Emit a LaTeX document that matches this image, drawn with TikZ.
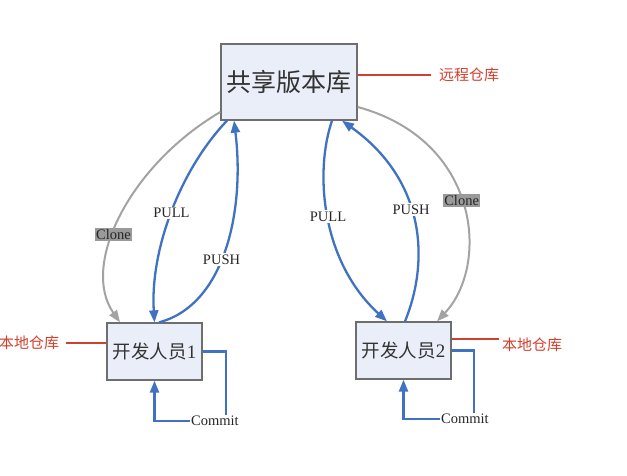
\documentclass[tikz,border=0pt]{standalone}
\usepackage{fontspec}
\setmainfont{Liberation Serif}
\newfontfamily\cjk{Noto Sans CJK SC}
\usetikzlibrary{arrows.meta}
\definecolor{boxfill}{HTML}{E9EEF8}
\definecolor{boxline}{HTML}{6E6E6E}
\definecolor{flowblue}{HTML}{3F72C2}
\definecolor{clonegray}{HTML}{A3A3A3}
\definecolor{tagred}{HTML}{D0402E}
\definecolor{tagfill}{HTML}{9A9A9A}

\begin{document}
\begin{tikzpicture}[x=1pt,y=-1pt,
  repo/.style={draw=boxline, fill=boxfill, line width=1.3pt, inner sep=0pt, text=black!80},
  flow/.style={draw=flowblue, line width=2.3pt, -{Triangle[length=12pt,width=9pt]}},
  cloneflow/.style={draw=clonegray, line width=2pt, -{Triangle[length=12pt,width=9pt]}},
  flowlabel/.style={fill=white, inner sep=1.5pt, text=black!85, font=\fontsize{14.5}{14.5}\selectfont},
  clonetag/.style={fill=tagfill, inner sep=1.5pt, text=black!85, font=\fontsize{14.5}{14.5}\selectfont},
  commitlabel/.style={inner sep=1pt, text=black!85, font=\fontsize{14.5}{14.5}\selectfont},
  callout/.style={draw=tagred, line width=1.2pt},
  calltext/.style={text=tagred, font=\cjk\fontsize{15}{15}\selectfont, inner sep=3pt},
  loopline/.style={draw=flowblue, line width=2.3pt},
]
\useasboundingbox (0,0) rectangle (627,475);

% repositories
\node[repo, minimum width=136pt, minimum height=76pt] (top) at (289,82)
  {\cjk\fontsize{25}{25}\selectfont 共享版本库};
\node[repo, minimum width=95pt, minimum height=57pt] (box1) at (154.5,351.5)
  {{\cjk\fontsize{18.5}{18.5}\selectfont 开发人员}{\fontsize{19}{19}\selectfont 1}};
\node[repo, minimum width=95pt, minimum height=57pt] (box2) at (403.5,350.5)
  {{\cjk\fontsize{18.5}{18.5}\selectfont 开发人员}{\fontsize{19}{19}\selectfont 2}};

% red callouts
\node[calltext] (remote) at (469,75) {远程仓库};
\node[calltext] (local1) at (29,343) {本地仓库};
\node[calltext] (local2) at (532,345) {本地仓库};
\draw[callout] ([yshift=7pt]top.east) -- ([xshift=-5pt]remote.west);
\draw[callout] ([xshift=4pt]local1.east) -- ([yshift=8.5pt]box1.west);
\draw[callout] ([yshift=11.5pt]box2.east) -- ([yshift=6pt]local2.west);

% clone paths
\draw[cloneflow] ([yshift=-30pt]top.west) .. controls (130,165) and (80,265) .. ([xshift=-34.5pt]box1.north)
  node[clonetag, pos=0.58] {Clone};
\draw[cloneflow] ([yshift=-25pt]top.east) .. controls (480,140) and (490,265) .. ([xshift=33.5pt]box2.north)
  node[clonetag, pos=0.48] {Clone};

% pull / push, developer 1
\draw[flow] ([xshift=-62pt]top.south) .. controls (180,170) and (150,250) .. (box1.north)
  node[flowlabel, pos=0.5] {PULL};
\draw[flow] ([xshift=4.5pt]box1.north) .. controls (225,305) and (245,210) .. ([xshift=-55pt]top.south)
  node[flowlabel, pos=0.45] {PUSH};

% pull / push, developer 2
\draw[flow] ([xshift=43pt]top.south) .. controls (315,170) and (320,260) .. ([xshift=-16.5pt]box2.north)
  node[flowlabel, pos=0.5] {PULL};
\draw[flow] ([xshift=1.5pt]box2.north) .. controls (430,260) and (425,180) .. ([xshift=53pt]top.south)
  node[flowlabel, pos=0.55] {PUSH};

% commit loops
\node[commitlabel] (commit1) at (215,421) {Commit};
\node[commitlabel] (commit2) at (465,419) {Commit};
\draw[loopline] (box1.east) -| ([xshift=11pt]commit1.north);
\draw[flow] (commit1.west) -| (box1.south);
\draw[loopline] (box2.east) -| ([xshift=9pt]commit2.north);
\draw[flow] (commit2.west) -| (box2.south);
\end{tikzpicture}
\end{document}
